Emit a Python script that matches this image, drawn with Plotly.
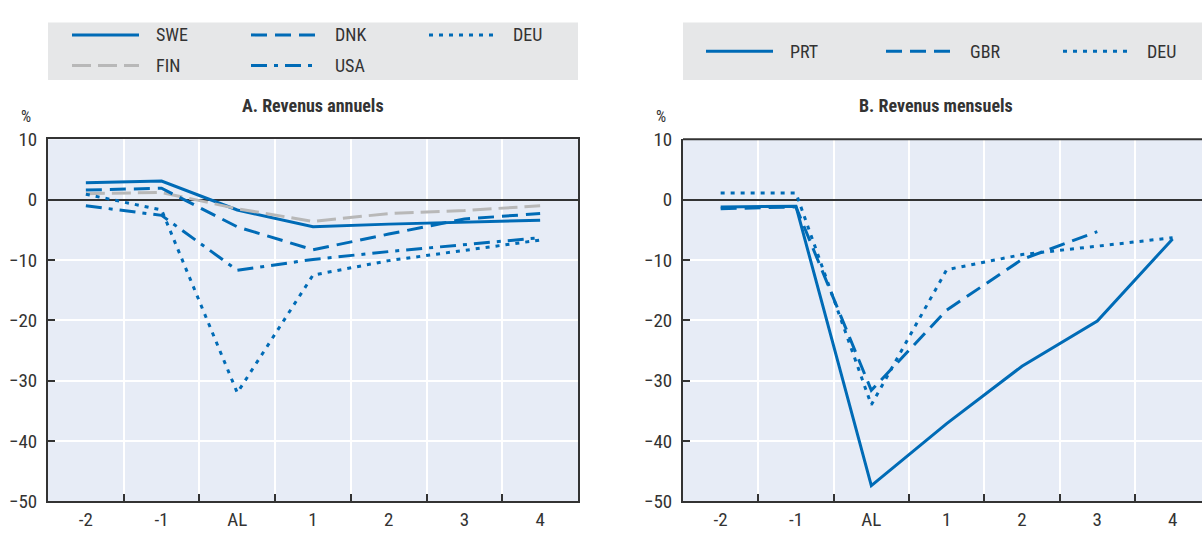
import plotly.graph_objects as go

W, H = 1202, 545

categories = ["-2", "-1", "AL", "1", "2", "3", "4"]

# Panel A: annual earnings
swe_a = [2.8, 3.1, -1.7, -4.5, -4.05, -3.7, -3.4]
dnk_a = [1.6, 1.9, -4.5, -8.3, -5.7, -3.2, -2.3]
deu_a = [0.9, -1.7, -32.0, -12.5, -10.1, -8.4, -6.7]
fin_a = [1.0, 1.2, -1.5, -3.6, -2.3, -1.8, -1.0]
usa_a = [-1.0, -2.6, -11.7, -9.9, -8.6, -7.4, -6.3]

# Panel B: monthly earnings
prt_b = [-1.2, -1.1, -47.4, -37.1, -27.6, -20.1, -6.5]
gbr_b = [-1.5, -1.2, -31.6, -18.3, -9.9, -5.3, None]
deu_b = [1.1, 1.1, -34.0, -11.6, -9.1, -7.7, -6.3]

y_ticks = [10, 0, -10, -20, -30, -40, -50]

BLUE = "#006BB6"
GREY = "#B8B8B8"
DARK = "#333333"
PLOTBG = "#E7ECF6"
LEGBG = "#E6E7E8"
FONT = "Liberation Sans Narrow, Arial Narrow, Roboto Condensed, DejaVu Sans Condensed, sans-serif"

DASH = "16px,8px"
DOT = "4px,6px"
FINDASH = "19px,7px"
DASHDOT = "16px,7px,4px,7px"

series_a = [
    ("SWE", swe_a, BLUE, "solid"),
    ("FIN", fin_a, GREY, FINDASH),
    ("DNK", dnk_a, BLUE, DASH),
    ("USA", usa_a, BLUE, DASHDOT),
    ("DEU", deu_a, BLUE, DOT),
]
series_b = [
    ("PRT", prt_b, BLUE, "solid"),
    ("GBR", gbr_b, BLUE, DASH),
    ("DEU", deu_b, BLUE, DOT),
]


def px_x(x):
    return x / W


def px_y(y):
    return 1 - y / H


fig = go.Figure()
for name, vals, col, dash in series_a:
    fig.add_trace(go.Scatter(x=categories, y=vals, mode="lines", name=name,
                             line=dict(color=col, width=3, dash=dash),
                             xaxis="x", yaxis="y", showlegend=False))
for name, vals, col, dash in series_b:
    fig.add_trace(go.Scatter(x=categories, y=vals, mode="lines", name=name,
                             line=dict(color=col, width=3, dash=dash),
                             xaxis="x2", yaxis="y2", showlegend=False,
                             connectgaps=False))

ydom = [px_y(512), px_y(134)]
axis_common = dict(
    showline=True, linecolor=DARK, linewidth=2,
    ticks="inside", tickcolor=DARK, ticklen=7, tickwidth=1.5,
    tickfont=dict(family=FONT, size=19, color=DARK),
)

xa = dict(type="category", categoryorder="array", categoryarray=categories,
          tickson="boundaries", showgrid=True, gridcolor="white", gridwidth=1.5,
          zeroline=False, **axis_common)
ya = dict(range=[-50, 10], tickvals=y_ticks, showgrid=True, gridcolor="white",
          gridwidth=1.5, zeroline=True, zerolinecolor=DARK, zerolinewidth=1.5,
          ticklabelstandoff=5, domain=ydom, **axis_common)

fig.update_layout(
    width=W, height=H,
    margin=dict(l=0, r=0, t=0, b=0),
    paper_bgcolor="white", plot_bgcolor=PLOTBG,
    font=dict(family=FONT, color=DARK),
    xaxis=dict(domain=[px_x(48), px_x(578)], range=[-0.5, 6.5], mirror=True,
               anchor="y", **xa),
    yaxis=dict(anchor="x", mirror=True, **ya),
    xaxis2=dict(domain=[px_x(683), 1.0], range=[-0.5, 6.39], mirror=False,
                anchor="y2", **xa),
    yaxis2=dict(anchor="x2", mirror=False, **ya),
)

shapes = []
annotations = []

# top border of panel B (right side is cut off in the reference)
shapes.append(dict(type="line", xref="paper", yref="paper",
                   x0=px_x(683), x1=1.0, y0=px_y(134), y1=px_y(134),
                   line=dict(color=DARK, width=2)))

# legend boxes
shapes.append(dict(type="rect", xref="paper", yref="paper", layer="below",
                   x0=px_x(48), x1=px_x(578), y0=px_y(72), y1=px_y(12),
                   fillcolor=LEGBG, line=dict(width=0)))
shapes.append(dict(type="rect", xref="paper", yref="paper", layer="below",
                   x0=px_x(683), x1=1.0, y0=px_y(72), y1=px_y(12),
                   fillcolor=LEGBG, line=dict(width=0)))

leg_a = [
    ("SWE", BLUE, "solid", 72, 25),
    ("DNK", BLUE, DASH, 251, 25),
    ("DEU", BLUE, DOT, 429, 25),
    ("FIN", GREY, FINDASH, 72, 57),
    ("USA", BLUE, DASHDOT, 251, 57),
]
leg_b = [
    ("PRT", BLUE, "solid", 706, 42),
    ("GBR", BLUE, DASH, 886, 42),
    ("DEU", BLUE, DOT, 1063, 42),
]
for name, col, dash, x0, y in leg_a + leg_b:
    shapes.append(dict(type="line", xref="paper", yref="paper",
                       x0=px_x(x0), x1=px_x(x0 + 67), y0=px_y(y), y1=px_y(y),
                       line=dict(color=col, width=3, dash=dash)))
    annotations.append(dict(text=name, xref="paper", yref="paper",
                            x=px_x(x0 + 82), y=px_y(y), xanchor="left",
                            yanchor="middle", showarrow=False,
                            font=dict(family=FONT, size=18, color=DARK)))

# panel titles
annotations.append(dict(text="<b>A. Revenus annuels</b>", xref="paper", yref="paper",
                        x=px_x(313), y=px_y(99), xanchor="center", yanchor="middle",
                        showarrow=False, font=dict(family=FONT, size=18, color=DARK)))
annotations.append(dict(text="<b>B. Revenus mensuels</b>", xref="paper", yref="paper",
                        x=px_x(936), y=px_y(99), xanchor="center", yanchor="middle",
                        showarrow=False, font=dict(family=FONT, size=18, color=DARK)))
# % units
for xp in (26, 661):
    annotations.append(dict(text="%", xref="paper", yref="paper",
                            x=px_x(xp), y=px_y(121), xanchor="center", yanchor="bottom",
                            showarrow=False, borderpad=0,
                            font=dict(family=FONT, size=16, color=DARK)))

fig.update_layout(shapes=shapes, annotations=annotations)
fig.write_html("out.html")
